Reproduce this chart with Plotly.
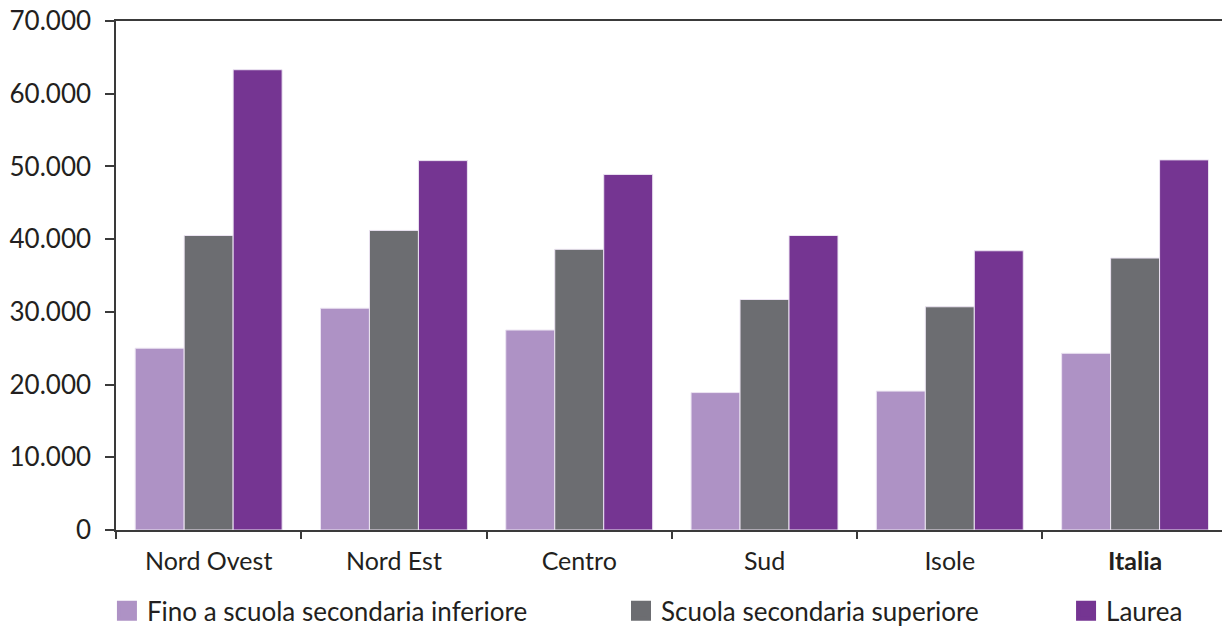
import plotly.graph_objects as go

categories = ["Nord Ovest", "Nord Est", "Centro", "Sud", "Isole", "Italia"]
tick_labels = ["Nord Ovest", "Nord Est", "Centro", "Sud", "Isole", "<b>Italia</b>"]
series_names = ["Fino a scuola secondaria inferiore", "Scuola secondaria superiore", "Laurea"]
fino_inferiore = [25000, 30500, 27500, 18900, 19100, 24300]
secondaria_superiore = [40500, 41200, 38600, 31700, 30700, 37400]
laurea = [63300, 50800, 48900, 40500, 38400, 50900]

colors = ["#ae92c5", "#6c6d71", "#753592"]
values = [fino_inferiore, secondaria_superiore, laurea]
legend_ids = ["legend", "legend2", "legend3"]

FONT = "Lato"
TXT = "#231f20"

fig = go.Figure()
for name, vals, col in zip(series_names, values, colors):
    fig.add_trace(go.Bar(
        x=categories, y=vals, name=name, showlegend=False,
        marker=dict(color=col, line=dict(color="#ece4f2", width=1)),
    ))
# legend entries (square swatches)
for name, col, lg in zip(series_names, colors, legend_ids):
    fig.add_trace(go.Scatter(
        x=[None], y=[None], mode="markers", name=name, legend=lg,
        marker=dict(symbol="square", size=16, color=col, line=dict(color=col, width=4)),
    ))

leg_common = dict(orientation="h", yanchor="middle", y=-0.159, xanchor="left",
                  font=dict(family=FONT, size=26, color=TXT), bgcolor="rgba(0,0,0,0)",
                  borderwidth=0, tracegroupgap=0)

fig.update_layout(
    width=1222, height=627,
    margin=dict(l=116, r=0, t=21, b=97, autoexpand=False),
    paper_bgcolor="white", plot_bgcolor="white",
    separators=",.",
    barmode="group", bargap=0.207, bargroupgap=0,
    font=dict(family=FONT, size=24, color=TXT),
    legend=dict(x=-0.0082, **leg_common),
    legend2=dict(x=0.4566, **leg_common),
    legend3=dict(x=0.859, **leg_common),
    xaxis=dict(
        type="category", range=[-0.5, 5.469], automargin=False,
        tickmode="array", tickvals=categories, ticktext=tick_labels,
        tickson="boundaries", ticks="outside", ticklen=7, tickwidth=1.5, tickcolor="#3a3a3a",
        showline=True, linecolor="#3a3a3a", linewidth=1.5, mirror=True,
        showgrid=False, zeroline=False,
        tickfont=dict(family=FONT, size=25, color=TXT),
        ticklabelstandoff=8,
    ),
    yaxis=dict(
        range=[0, 70000], tickmode="linear", tick0=0, dtick=10000, automargin=False,
        tickformat=",d",
        ticks="outside", ticklen=9, tickwidth=1.5, tickcolor="#3a3a3a",
        showline=True, linecolor="#3a3a3a", linewidth=1.5,
        showgrid=False, zeroline=False,
        tickfont=dict(family=FONT, size=26, color=TXT),
        ticklabelstandoff=9,
    ),
)

fig.write_html("out.html", config={"displayModeBar": False},
               post_script="document.body.style.margin='0';")
